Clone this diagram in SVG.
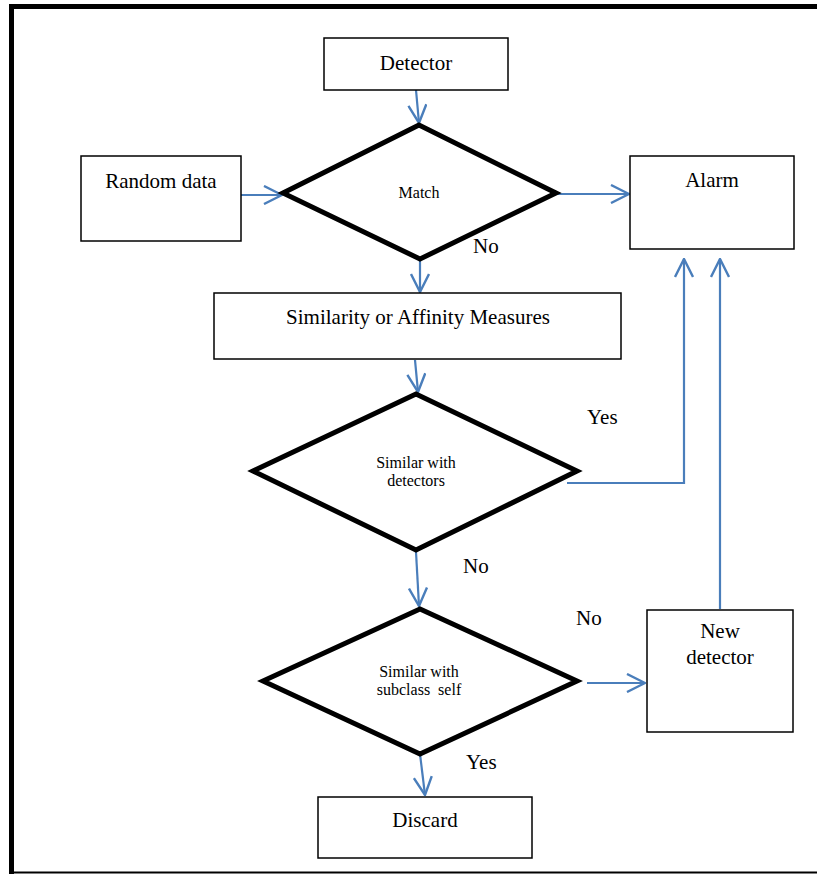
<svg xmlns="http://www.w3.org/2000/svg" width="817" height="874" viewBox="0 0 817 874">
<defs>
<marker id="arr" viewBox="0 0 20 20" refX="19" refY="10" markerWidth="20" markerHeight="20" markerUnits="userSpaceOnUse" orient="auto">
<path d="M1,1 L19,10 L1,19" fill="none" stroke="#4a7ebb" stroke-width="2.4"/>
</marker>
</defs>
<style>
.box{fill:#fff;stroke:#000;stroke-width:1.5}
.dia{fill:#fff;stroke:#000;stroke-width:5;stroke-linejoin:miter}
.t{font-family:"Liberation Serif","Times New Roman","DejaVu Serif",serif;font-size:21px;fill:#000;text-anchor:middle}
.s{font-family:"Liberation Serif","Times New Roman","DejaVu Serif",serif;font-size:16px;fill:#000;text-anchor:middle}
.l{font-family:"Liberation Serif","Times New Roman","DejaVu Serif",serif;font-size:21px;fill:#000}
.c{fill:none;stroke:#4a7ebb;stroke-width:2.2}
</style>
<rect width="817" height="874" fill="#fff"/>
<g id="frame">
<path d="M11.5,874 V6.5 H817" fill="none" stroke="#000" stroke-width="5"/>
<path d="M9,872.5 H817" fill="none" stroke="#000" stroke-width="2"/>
</g>
<g id="connectors">
<path class="c" d="M416,90 L419,123" marker-end="url(#arr)"/>
<path class="c" d="M241,195 L282,195" marker-end="url(#arr)"/>
<path class="c" d="M557,194 L629,194" marker-end="url(#arr)"/>
<path class="c" d="M420,260 L420,292" marker-end="url(#arr)"/>
<path class="c" d="M415,360 L418,392" marker-end="url(#arr)"/>
<path class="c" d="M567,483 H684 V259" marker-end="url(#arr)"/>
<path class="c" d="M720,609 V259" marker-end="url(#arr)"/>
<path class="c" d="M416,552 L419,606" marker-end="url(#arr)"/>
<path class="c" d="M587,683 L645,683" marker-end="url(#arr)"/>
<path class="c" d="M420,754 L425,795" marker-end="url(#arr)"/>
</g>
<g id="detector">
<rect class="box" x="324" y="38" width="184" height="52"/>
<text class="t" x="416" y="70">Detector</text>
</g>
<g id="random-data">
<rect class="box" x="81" y="156" width="160" height="85"/>
<text class="t" x="161" y="188">Random data</text>
</g>
<g id="match">
<polygon class="dia" points="419,125 283,193 420,259 556,193"/>
<text class="s" x="419" y="198">Match</text>
</g>
<g id="alarm">
<rect class="box" x="630" y="156" width="164" height="93"/>
<text class="t" x="712" y="187">Alarm</text>
</g>
<g id="similarity">
<rect class="box" x="214" y="293" width="407" height="66"/>
<text class="t" x="418" y="324">Similarity or Affinity Measures</text>
</g>
<g id="similar-detectors">
<polygon class="dia" points="416,394 253,471 416,550 577,471"/>
<text class="s" x="416" y="468">Similar with</text>
<text class="s" x="416" y="486">detectors</text>
</g>
<g id="similar-self">
<polygon class="dia" points="420,609 263,681 420,754 577,681"/>
<text class="s" x="419" y="677">Similar with</text>
<text class="s" x="419" y="695" xml:space="preserve">subclass  self</text>
</g>
<g id="new-detector">
<rect class="box" x="647" y="610" width="146" height="122"/>
<text class="t" x="720" y="638">New</text>
<text class="t" x="720" y="664">detector</text>
</g>
<g id="discard">
<rect class="box" x="318" y="797" width="214" height="61"/>
<text class="t" x="425" y="827">Discard</text>
</g>
<g id="labels">
<text class="l" x="473" y="253">No</text>
<text class="l" x="587" y="424">Yes</text>
<text class="l" x="463" y="573">No</text>
<text class="l" x="576" y="625">No</text>
<text class="l" x="466" y="769">Yes</text>
</g>
</svg>
